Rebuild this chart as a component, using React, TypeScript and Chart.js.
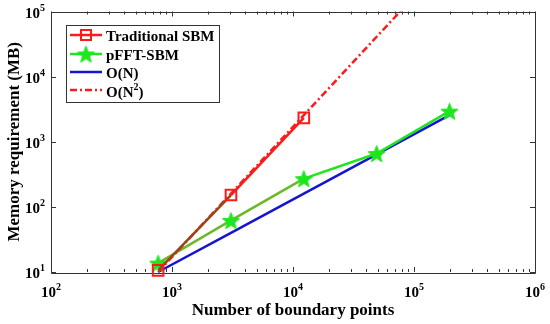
import React, { useEffect, useRef } from 'react';
import { Chart, registerables } from 'chart.js';

Chart.register(...registerables);

const boundaryPoints = [768, 3072, 12288, 49152, 196608];
const traditionalSBM = [10.6, 152, 2330];
const pfftSBM = [13.7, 62, 272, 660, 2950];
const orderN = [10, 40, 160, 640, 2560];
const orderN2 = [10, 160, 2560, 40960, 655360];
const xTickValues = [100, 1000, 10000, 100000, 1000000];
const yTickValues = [10, 100, 1000, 10000, 100000];
const seriesLabels = ['Traditional SBM', 'pFFT-SBM', 'O(N)', 'O(N^2)'];
const xTitle = 'Number of boundary points';
const yTitle = 'Memory requirement (MB)';

const RED = '#ff1a1a';
const GREEN = '#1ee61e';
const BLUE = '#1414d2';
const BROWN = '#9a4418';
const OLIVE = '#6cb828';
const AXIS = '#333333';
const FONT = '"Liberation Serif", "Times New Roman", serif';

function makeStar(size: number, fill: string) {
  const c = document.createElement('canvas');
  c.width = size;
  c.height = size;
  const ctx = c.getContext('2d')!;
  const cx = size / 2;
  const cy = size / 2 + 1;
  const R = size / 2 - 0.5;
  const r = R * 0.42;
  ctx.beginPath();
  for (let i = 0; i < 10; i++) {
    const a = -Math.PI / 2 + (i * Math.PI) / 5;
    const rad = i % 2 === 0 ? R : r;
    ctx.lineTo(cx + rad * Math.cos(a), cy + rad * Math.sin(a));
  }
  ctx.closePath();
  ctx.fillStyle = fill;
  ctx.fill();
  ctx.strokeStyle = fill;
  ctx.lineWidth = 1;
  ctx.stroke();
  return c;
}

function exponentOf(v: number) {
  return String(Math.round(Math.log10(v)));
}

function drawPower(ctx: CanvasRenderingContext2D, v: number, x: number, y: number, align: 'center' | 'right') {
  const base = '10';
  const exp = exponentOf(v);
  ctx.font = `bold 15px ${FONT}`;
  const wb = ctx.measureText(base).width;
  ctx.font = `bold 10px ${FONT}`;
  const we = ctx.measureText(exp).width;
  const total = wb + we;
  const left = align === 'center' ? x - total / 2 : x - total;
  ctx.textAlign = 'left';
  ctx.textBaseline = 'alphabetic';
  ctx.fillStyle = '#000';
  ctx.font = `bold 15px ${FONT}`;
  ctx.fillText(base, left, y);
  ctx.font = `bold 10px ${FONT}`;
  ctx.fillText(exp, left + wb, y - 7);
}

function drawLabel(ctx: CanvasRenderingContext2D, label: string, x: number, y: number) {
  ctx.fillStyle = '#000';
  ctx.textAlign = 'left';
  ctx.textBaseline = 'alphabetic';
  const parts = label.split('^');
  ctx.font = `bold 15px ${FONT}`;
  if (parts.length === 1) {
    ctx.fillText(label, x, y);
    return;
  }
  const before = parts[0];
  const exp = parts[1].charAt(0);
  const after = parts[1].slice(1);
  ctx.fillText(before, x, y);
  let cx = x + ctx.measureText(before).width;
  ctx.font = `bold 10px ${FONT}`;
  ctx.fillText(exp, cx, y - 7);
  cx += ctx.measureText(exp).width;
  ctx.font = `bold 15px ${FONT}`;
  ctx.fillText(after, cx, y);
}

const axesPlugin = {
  id: 'matlabAxes',
  beforeDatasetsDraw(chart: any) {
    const { ctx, chartArea } = chart;
    const { left, right, top, bottom } = chartArea;
    const xs = chart.scales.x;
    const ys = chart.scales.y;
    ctx.save();
    ctx.strokeStyle = AXIS;
    ctx.lineWidth = 1;
    ctx.beginPath();
    ctx.rect(Math.round(left) + 0.5, Math.round(top) + 0.5, Math.round(right - left), Math.round(bottom - top));
    ctx.stroke();
    ctx.beginPath();
    for (let d = 0; d < xTickValues.length; d++) {
      const dec = xTickValues[d];
      for (let m = 1; m <= 9; m++) {
        const v = dec * m;
        if (v > xTickValues[xTickValues.length - 1]) break;
        const px = Math.round(xs.getPixelForValue(v)) + 0.5;
        const len = m === 1 ? 5 : 3;
        ctx.moveTo(px, bottom);
        ctx.lineTo(px, bottom - len);
        ctx.moveTo(px, top);
        ctx.lineTo(px, top + len);
      }
    }
    for (const v of yTickValues) {
      const py = Math.round(ys.getPixelForValue(v)) + 0.5;
      ctx.moveTo(left, py);
      ctx.lineTo(left + 5, py);
      ctx.moveTo(right, py);
      ctx.lineTo(right - 5, py);
    }
    ctx.stroke();
    ctx.restore();
  },
  afterDraw(chart: any) {
    const { ctx, chartArea } = chart;
    const { left, right, top, bottom } = chartArea;
    const xs = chart.scales.x;
    const ys = chart.scales.y;
    ctx.save();
    for (const v of xTickValues) {
      drawPower(ctx, v, xs.getPixelForValue(v), bottom + 25, 'center');
    }
    for (const v of yTickValues) {
      drawPower(ctx, v, left - 6, ys.getPixelForValue(v) + 6, 'right');
    }
    ctx.fillStyle = '#000';
    ctx.font = `bold 17px ${FONT}`;
    ctx.textAlign = 'center';
    ctx.textBaseline = 'alphabetic';
    ctx.fillText(xTitle, (left + right) / 2, bottom + 43);
    ctx.save();
    ctx.translate(19, (top + bottom) / 2);
    ctx.rotate(-Math.PI / 2);
    ctx.fillText(yTitle, 0, 0);
    ctx.restore();

    // legend
    const lx = 66, ly = 25, lw = 153, lh = 77;
    ctx.fillStyle = '#fff';
    ctx.fillRect(lx, ly, lw, lh);
    ctx.strokeStyle = AXIS;
    ctx.lineWidth = 1;
    ctx.strokeRect(lx + 0.5, ly + 0.5, lw, lh);
    const rows = [35, 54, 72, 90];
    const byLabel: any = {};
    chart.data.datasets.forEach((ds: any) => (byLabel[ds.label] = ds));
    seriesLabels.forEach((lab, i) => {
      const ds = byLabel[lab];
      const y = rows[i];
      ctx.save();
      ctx.strokeStyle = ds.borderColor;
      ctx.lineWidth = 2.5;
      ctx.setLineDash(ds.borderDash || []);
      ctx.beginPath();
      ctx.moveTo(70, y);
      ctx.lineTo(102, y);
      ctx.stroke();
      ctx.setLineDash([]);
      if (i === 0) {
        ctx.lineWidth = 2;
        ctx.strokeRect(81, y - 5, 10, 10);
      } else if (i === 1) {
        const img = ds.pointStyle as HTMLCanvasElement;
        ctx.drawImage(img, 86 - img.width / 2, y - img.height / 2);
      }
      ctx.restore();
      drawLabel(ctx, lab, 106, i === 3 ? y + 7 : y + 6);
    });
    ctx.restore();
  },
};

export default function App() {
  const ref = useRef<HTMLCanvasElement | null>(null);
  useEffect(() => {
    document.body.style.margin = '0';
    const canvas = ref.current!;
    const star = makeStar(19, GREEN);
    const toXY = (vals: number[]) => vals.map((y, i) => ({ x: boundaryPoints[i], y }));
    const chart = new Chart(canvas, {
      type: 'line',
      data: {
        datasets: [
          {
            label: seriesLabels[0],
            data: toXY(traditionalSBM),
            borderColor: RED,
            backgroundColor: 'rgba(0,0,0,0)',
            borderWidth: 2.5,
            pointStyle: 'rect',
            pointRadius: 7.5,
            pointBorderWidth: 2,
            pointBorderColor: RED,
            clip: false,
            segment: { borderColor: (c: any) => (c.p0DataIndex === 0 ? BROWN : undefined) },
            order: 0,
          },
          {
            label: seriesLabels[1],
            data: toXY(pfftSBM),
            borderColor: GREEN,
            backgroundColor: GREEN,
            borderWidth: 2.5,
            pointStyle: star,
            pointRadius: 9,
            clip: false,
            segment: { borderColor: (c: any) => (c.p0DataIndex <= 1 ? OLIVE : undefined) },
            order: 2,
          },
          {
            label: seriesLabels[2],
            data: toXY(orderN),
            borderColor: BLUE,
            borderWidth: 2.5,
            pointRadius: 0,
            clip: false,
            order: 3,
          },
          {
            label: seriesLabels[3],
            data: toXY(orderN2),
            borderColor: RED,
            borderWidth: 2.5,
            borderDash: [7, 3, 2, 3],
            pointRadius: 0,
            order: 1,
          },
        ],
      },
      options: {
        responsive: false,
        animation: false,
        devicePixelRatio: 1,
        layout: { padding: { left: 51, right: 15, top: 11, bottom: 52 } },
        plugins: { legend: { display: false }, tooltip: { enabled: false } },
        scales: {
          x: { type: 'logarithmic', min: 100, max: 1000000, display: false },
          y: { type: 'logarithmic', min: 10, max: 100000, display: false },
        },
      },
      plugins: [axesPlugin],
    });
    return () => chart.destroy();
  }, []);
  return <canvas ref={ref} width={550} height={324} style={{ display: 'block' }} />;
}
